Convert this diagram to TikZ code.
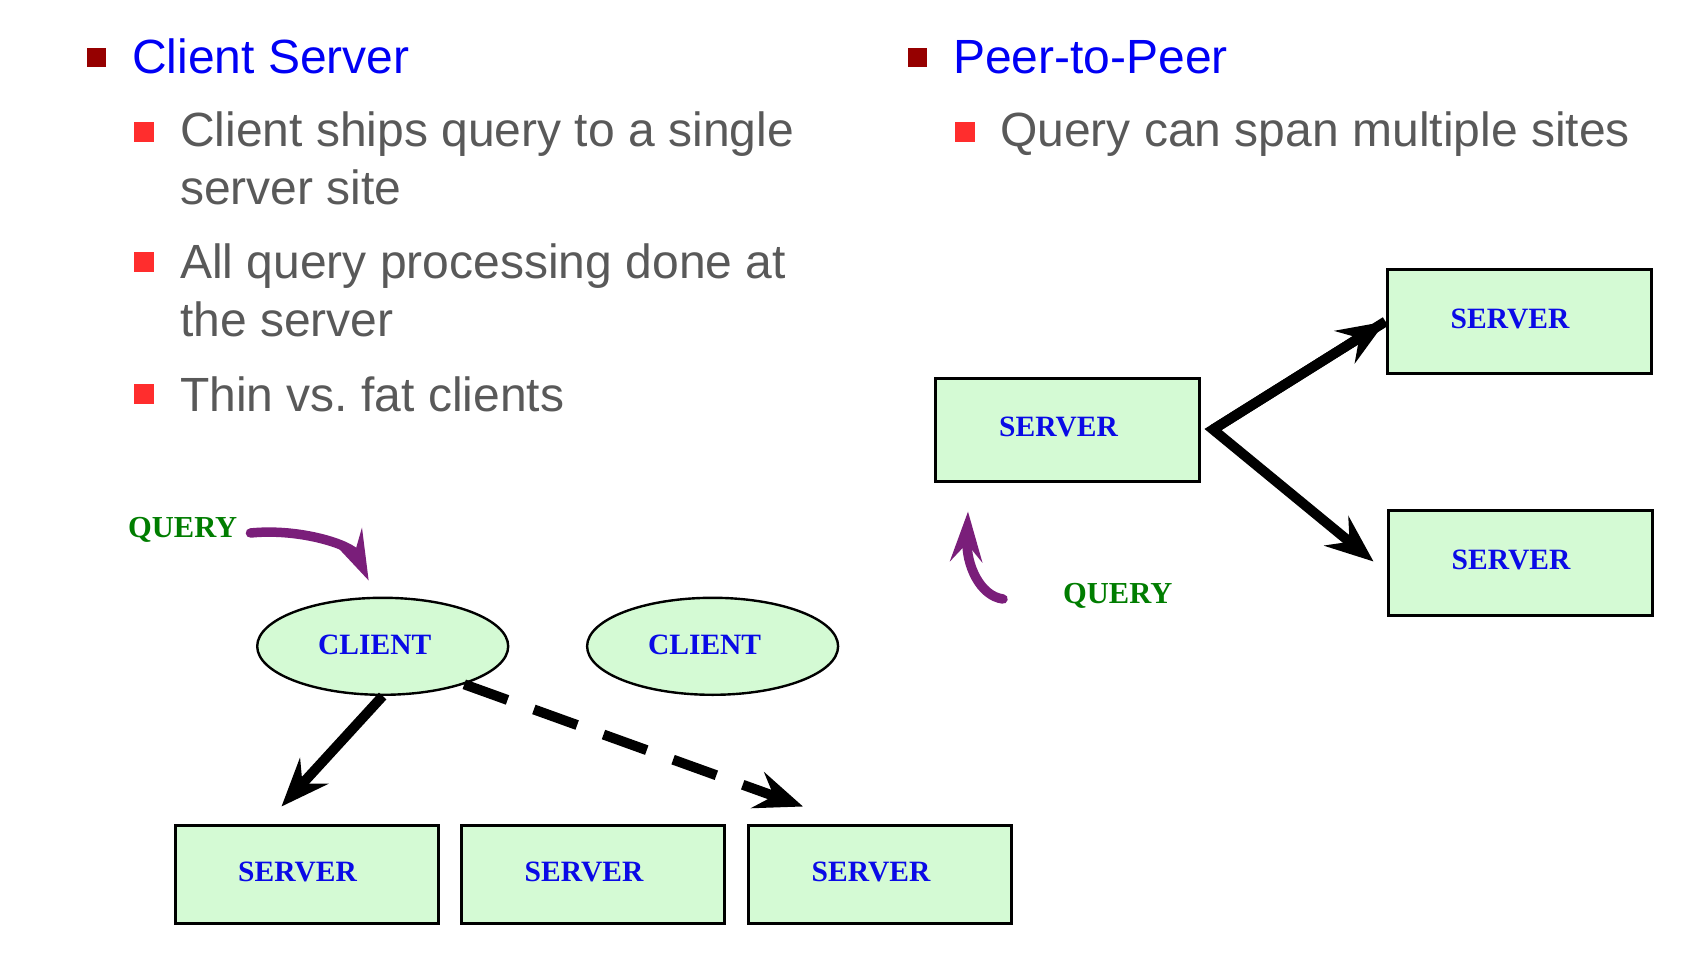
\documentclass[tikz,border=0pt]{standalone}
\usepackage{fontspec}
\setmainfont{Liberation Serif}
\newfontfamily\arialf{Liberation Sans}
\usetikzlibrary{arrows.meta,calc,shapes.geometric}
\definecolor{txtgray}{RGB}{89,89,89}
\definecolor{titleblue}{RGB}{0,0,245}
\definecolor{darkbul}{RGB}{150,0,0}
\definecolor{redbul}{RGB}{255,45,45}
\definecolor{boxfill}{RGB}{212,250,212}
\definecolor{labblue}{RGB}{10,10,230}
\definecolor{qgreen}{RGB}{0,125,0}
\definecolor{qpurple}{RGB}{122,30,122}
\frenchspacing
\newcommand{\lab}[1]{\hspace*{-18pt}\raisebox{5pt}{#1}}
\begin{document}
\begin{tikzpicture}[x=1pt,y=-1pt,
  titletxt/.style={anchor=base west,inner sep=0pt,font=\arialf\fontsize{48}{58}\selectfont,text=titleblue},
  itemtxt/.style={anchor=base west,inner sep=0pt,align=left,font=\arialf\fontsize{48}{58}\selectfont,text=txtgray},
  server/.style={draw=black,line width=3pt,fill=boxfill,rectangle,inner sep=0pt,minimum width=264pt,minimum height=103pt,font=\bfseries\fontsize{29.5}{34}\selectfont,text=labblue},
  client/.style={draw=black,line width=2.4pt,fill=boxfill,ellipse,inner sep=0pt,minimum width=251pt,minimum height=97pt,font=\bfseries\fontsize{29.5}{34}\selectfont,text=labblue},
  qlabel/.style={anchor=west,inner sep=0pt,font=\bfseries\fontsize{30.5}{34}\selectfont,text=qgreen},
  bigarrow/.style={line width=10pt,-{Stealth[length=48pt,width=38pt,inset=17pt]}},
  qarrow/.style={draw=qpurple,line width=9.5pt,line cap=round,-{Stealth[length=50pt,width=32pt,inset=18pt]}}
]
\useasboundingbox[fill=white] (0,0) rectangle (1694,957);

% left column text
\fill[darkbul] (87,48) rectangle (106,67);
\node[titletxt] (t1) at (132,74) {Client Server};
\fill[redbul] (134,122) rectangle (154,142);
\node[itemtxt] (i1) at (180,205) {Client ships query to a single\\server site};
\fill[redbul] (134,252) rectangle (154,272);
\node[itemtxt] (i2) at (180,337) {All query processing done at\\the server};
\fill[redbul] (134,384) rectangle (154,404);
\node[itemtxt] (i3) at (180,411) {Thin vs. fat clients};

% right column text
\fill[darkbul] (908,48) rectangle (927,67);
\node[titletxt] (t2) at (953,74) {Peer-to-Peer};
\fill[redbul] (955,122) rectangle (975,142);
\node[itemtxt] (i4) at (1000,147) {Query can span multiple sites};

% client-server diagram
\node[client] (c1) at (382.7,646.3) {\hspace*{-16pt}\raisebox{3pt}{CLIENT}};
\node[client] (c2) at (712.6,646.3) {\hspace*{-16pt}\raisebox{3pt}{CLIENT}};
\node[server,minimum width=263pt,minimum height=98pt] (s1) at (306.5,874) {\lab{SERVER}};
\node[server,minimum width=263pt,minimum height=98pt] (s2) at (593,874) {\lab{SERVER}};
\node[server,minimum width=263pt,minimum height=98pt] (s3) at (880,874) {\lab{SERVER}};
\node[qlabel] (q1) at (128,530) {QUERY};

\draw[bigarrow] (c1.south) -- ($(s1.north)+(-25,-17)$);
\draw[bigarrow,dash pattern=on 46pt off 28pt] (c1.-25) -- ($(s3.north)+(-77,-17)$);
\draw[qarrow] ($(q1.east)+(13,3)$) .. controls (300,528) and (352,545) .. ($(c1.north)+(-14,-16)$);

% peer-to-peer diagram
\node[server] (p0) at (1067.5,429.5) {\lab{SERVER}};
\node[server] (p1) at (1519,321.5) {\lab{SERVER}};
\node[server,minimum height=105pt] (p2) at (1520,562.5) {\lab{SERVER}};
\node[qlabel] (q2) at (1063,596) {QUERY};
\coordinate (v) at ($(p0.east)+(12,0)$);
\draw[bigarrow,line join=miter] (p1.west) -- (v) -- ($(p2.west)+(-13,-1)$);
\draw[bigarrow] (v) -- (p1.west);
\draw[qarrow] ($(q2.west)+(-60,3)$) .. controls (980,596) and (966,565) .. ($(p0.south west)+(34,29)$);
\end{tikzpicture}
\end{document}
